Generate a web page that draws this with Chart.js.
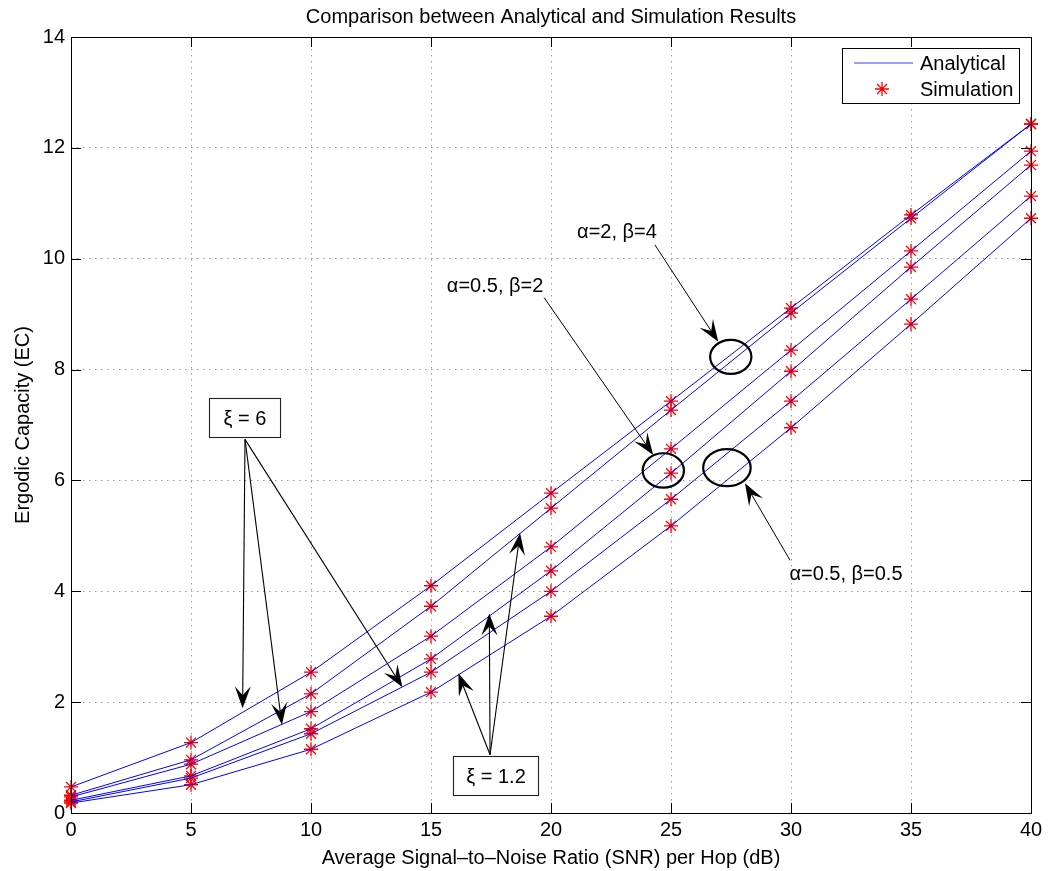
<!DOCTYPE html>
<html>
<head>
<meta charset="utf-8">
<script src="https://cdn.jsdelivr.net/npm/chart.js@4.4.1/dist/chart.umd.min.js"></script>
<style>
  html, body { margin: 0; padding: 0; background: #fff; }
  canvas { display: block; }
</style>
</head>
<body>
<canvas id="ec" width="1052" height="871"></canvas>
<script>
// SNR per hop (dB)
const snrDb = [0, 5, 10, 15, 20, 25, 30, 35, 40];

// ergodic capacity
const ecA2B4Xi6     = [0.47, 1.27, 2.54, 4.10, 5.77, 7.43, 9.11, 10.79, 12.43];
const ecA2B4Xi12    = [0.32, 0.96, 2.15, 3.73, 5.50, 7.27, 9.02, 10.73, 12.43];
const ecA05B2Xi6    = [0.29, 0.88, 1.83, 3.19, 4.80, 6.57, 8.35, 10.14, 11.94];
const ecA05B2Xi12   = [0.23, 0.67, 1.52, 2.78, 4.37, 6.13, 7.97, 9.85, 11.69];
const ecA05B05Xi6   = [0.20, 0.63, 1.43, 2.54, 4.00, 5.66, 7.43, 9.27, 11.13];
const ecA05B05Xi12  = [0.18, 0.51, 1.15, 2.18, 3.55, 5.18, 6.95, 8.82, 10.73];

const xTickValues = [0, 5, 10, 15, 20, 25, 30, 35, 40];
const yTickValues = [0, 2, 4, 6, 8, 10, 12, 14];

const titleText = 'Comparison between Analytical and Simulation Results';
const xTitle = 'Average Signal\u2013to\u2013Noise Ratio (SNR) per Hop (dB)';
const yTitle = 'Ergodic Capacity (EC)';
const legendLabels = ['Analytical', 'Simulation'];

// annotation anchors, in data units (dB, EC)
const xiBoxes = [
  { text: '\u03be = 6', x0: 5.76, x1: 8.71, y0: 7.48, y1: 6.78, from: [7.25, 6.74],
    tips: [[7.15, 1.89], [8.79, 1.59], [13.81, 2.27]] },
  { text: '\u03be = 1.2', x0: 15.93, x1: 19.47, y0: 1.03, y1: 0.32, from: [17.46, 1.05],
    tips: [[16.14, 2.52], [17.43, 3.60], [18.71, 5.05]] }
];
const paramNotes = [
  { text: '\u03b1=2, \u03b2=4', tx: 22.75, ty: 10.48, from: [24.33, 10.25], tip: [26.97, 8.50],
    cx: 27.49, cy: 8.23, rx: 0.86, ry: 0.307 },
  { text: '\u03b1=0.5, \u03b2=2', tx: 17.67, ty: 9.49, from: [19.71, 9.30], tip: [24.26, 6.46],
    cx: 24.68, cy: 6.18, rx: 0.86, ry: 0.31 },
  { text: '\u03b1=0.5, \u03b2=0.5', tx: 32.29, ty: 4.31, from: [29.96, 4.56], tip: [28.08, 5.95],
    cx: 27.33, cy: 6.23, rx: 0.99, ry: 0.334 }
];

const FONT = '"Liberation Sans", Arial, Helvetica, sans-serif';
const FONT_SIZE = 20;
const curves = [ecA2B4Xi6, ecA2B4Xi12, ecA05B2Xi6, ecA05B2Xi12, ecA05B05Xi6, ecA05B05Xi12];
const toPoints = (ys) => snrDb.map((x, i) => ({ x: x, y: ys[i] }));
const starStyle = { pointStyle: 'star', radius: 7, borderWidth: 1.3, rotation: 0 };

const datasets = [];
curves.forEach((ys) => {
  datasets.push({
    label: legendLabels[0],
    data: toPoints(ys),
    borderColor: '#0000ff',
    borderWidth: 1,
    pointRadius: 0,
    tension: 0,
    fill: false
  });
});
curves.forEach((ys) => {
  datasets.push({
    label: legendLabels[1],
    data: toPoints(ys),
    showLine: false,
    pointStyle: 'star',
    pointRadius: 7,
    pointBorderWidth: 1.3,
    borderColor: '#ff0000',
    backgroundColor: '#ff0000',
    clip: false
  });
});

// draws a line with a MATLAB style filled arrow head
function drawArrow(ctx, x1, y1, x2, y2) {
  const ang = Math.atan2(y2 - y1, x2 - x1);
  const len = 22, half = 8, notch = 13;
  ctx.beginPath();
  ctx.moveTo(x1, y1);
  ctx.lineTo(x2 - Math.cos(ang) * notch, y2 - Math.sin(ang) * notch);
  ctx.stroke();
  ctx.save();
  ctx.translate(x2, y2);
  ctx.rotate(ang);
  ctx.beginPath();
  ctx.moveTo(0, 0);
  ctx.lineTo(-len, -half);
  ctx.lineTo(-notch, 0);
  ctx.lineTo(-len, half);
  ctx.closePath();
  ctx.fill();
  ctx.restore();
}

const figureExtras = {
  id: 'figureExtras',
  afterDraw(chart) {
    const { ctx, chartArea: a, scales: { x, y } } = chart;
    const px = (v) => x.getPixelForValue(v);
    const py = (v) => y.getPixelForValue(v);
    ctx.save();

    // axes box with inward ticks on all sides
    ctx.strokeStyle = '#000';
    ctx.lineWidth = 1;
    ctx.strokeRect(a.left + 0.5, a.top + 0.5, a.right - a.left, a.bottom - a.top);
    ctx.beginPath();
    xTickValues.forEach((v) => {
      const p = Math.round(px(v)) + 0.5;
      ctx.moveTo(p, a.bottom); ctx.lineTo(p, a.bottom - 10);
      ctx.moveTo(p, a.top); ctx.lineTo(p, a.top + 10);
    });
    yTickValues.forEach((v) => {
      const p = Math.round(py(v)) + 0.5;
      ctx.moveTo(a.left, p); ctx.lineTo(a.left + 10, p);
      ctx.moveTo(a.right, p); ctx.lineTo(a.right - 10, p);
    });
    ctx.stroke();

    // title
    ctx.fillStyle = '#000';
    ctx.font = FONT_SIZE + 'px ' + FONT;
    ctx.textAlign = 'center';
    ctx.textBaseline = 'middle';
    ctx.fillText(titleText, (a.left + a.right) / 2, 17);

    // legend
    const lx = 842.5, ly = 48.5, lw = 177, lh = 55;
    ctx.fillStyle = '#fff';
    ctx.fillRect(lx, ly, lw, lh);
    ctx.strokeStyle = '#000';
    ctx.strokeRect(lx, ly, lw, lh);
    ctx.beginPath();
    ctx.strokeStyle = '#3a3aff';
    ctx.lineWidth = 1;
    ctx.moveTo(854, 63);
    ctx.lineTo(913, 63);
    ctx.stroke();
    ctx.strokeStyle = '#ff0000';
    ctx.lineWidth = 1.3;
    Chart.helpers.drawPoint(ctx, starStyle, 882, 89);
    ctx.fillStyle = '#000';
    ctx.textAlign = 'left';
    ctx.fillText(legendLabels[0], 920, 64);
    ctx.fillText(legendLabels[1], 920, 90);

    // xi boxes and their arrows
    ctx.strokeStyle = '#000';
    ctx.fillStyle = '#000';
    ctx.lineWidth = 1.1;
    xiBoxes.forEach((b) => {
      b.tips.forEach((t) => drawArrow(ctx, px(b.from[0]), py(b.from[1]), px(t[0]), py(t[1])));
      const bx = Math.round(px(b.x0)) + 0.5, by = Math.round(py(b.y0)) + 0.5;
      const bw = Math.round(px(b.x1) - px(b.x0)), bh = Math.round(py(b.y1) - py(b.y0));
      ctx.fillStyle = '#fff';
      ctx.fillRect(bx, by, bw, bh);
      ctx.strokeStyle = '#222';
      ctx.strokeRect(bx, by, bw, bh);
      ctx.fillStyle = '#000';
      ctx.strokeStyle = '#000';
      ctx.textAlign = 'center';
      ctx.fillText(b.text, bx + bw / 2, by + bh / 2 + 1);
    });

    // parameter labels, arrows and ellipses
    paramNotes.forEach((n) => {
      ctx.lineWidth = 1;
      drawArrow(ctx, px(n.from[0]), py(n.from[1]), px(n.tip[0]), py(n.tip[1]));
      ctx.lineWidth = 2.2;
      ctx.beginPath();
      ctx.ellipse(px(n.cx), py(n.cy), px(n.cx + n.rx) - px(n.cx), py(n.cy) - py(n.cy + n.ry), 0, 0, Math.PI * 2);
      ctx.stroke();
      ctx.textAlign = 'center';
      ctx.fillText(n.text, px(n.tx), py(n.ty));
    });

    ctx.restore();
  }
};

new Chart(document.getElementById('ec'), {
  type: 'line',
  data: { datasets: datasets },
  options: {
    responsive: false,
    animation: false,
    layout: { padding: { top: 37, right: 21, left: 0, bottom: 0 } },
    plugins: {
      legend: { display: false },
      title: { display: false },
      tooltip: { enabled: false }
    },
    scales: {
      x: {
        type: 'linear',
        min: 0,
        max: 40,
        afterFit: (s) => { s.height = 58; },
        afterBuildTicks: (s) => { s.ticks = xTickValues.map((v) => ({ value: v })); },
        ticks: { color: '#000', padding: 5, font: { family: FONT, size: FONT_SIZE } },
        grid: { color: '#9a9a9a', drawTicks: false },
        border: { display: false, dash: [1.5, 4.5] },
        title: { display: true, text: xTitle, color: '#000', padding: { top: 0, bottom: 1 }, font: { family: FONT, size: FONT_SIZE } }
      },
      y: {
        min: 0,
        max: 14,
        afterFit: (s) => { s.width = 71; },
        afterBuildTicks: (s) => { s.ticks = yTickValues.map((v) => ({ value: v })); },
        ticks: { color: '#000', padding: 6, font: { family: FONT, size: FONT_SIZE } },
        grid: { color: '#9a9a9a', drawTicks: false },
        border: { display: false, dash: [1.5, 4.5] },
        title: { display: true, text: yTitle, color: '#000', padding: { top: 11, bottom: 0 }, font: { family: FONT, size: FONT_SIZE } }
      }
    }
  },
  plugins: [figureExtras]
});
</script>
</body>
</html>
